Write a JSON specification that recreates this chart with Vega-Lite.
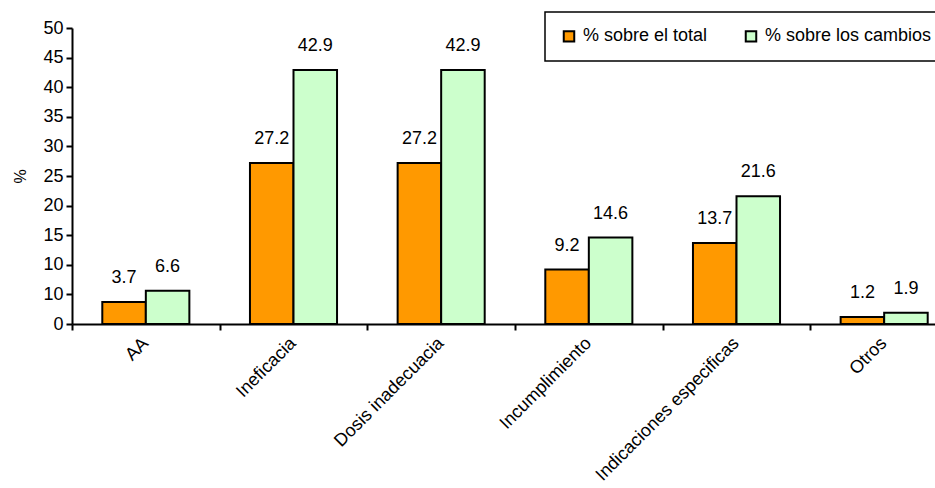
{
  "$schema": "https://vega.github.io/schema/vega-lite/v6.json",
  "autosize": "none",
  "width": 886,
  "height": 296,
  "padding": {"left": 72, "top": 28, "right": 10, "bottom": 164},
  "background": "white",
  "config": {
    "view": {"stroke": null},
    "font": "Liberation Sans",
    "axis": {"labelFont": "Liberation Sans", "titleFont": "Liberation Sans", "labelColor": "black", "titleColor": "black", "domainColor": "black", "tickColor": "black", "domainWidth": 2, "tickWidth": 2, "tickSize": 6, "grid": false},
    "legend": {"labelFont": "Liberation Sans"}
  },
  "data": {
    "values": [
      {"category": "AA", "series": "% sobre el total", "value": 3.7, "label": "3.7"},
      {"category": "AA", "series": "% sobre los cambios", "value": 5.6, "label": "6.6"},
      {"category": "Ineficacia", "series": "% sobre el total", "value": 27.2, "label": "27.2"},
      {"category": "Ineficacia", "series": "% sobre los cambios", "value": 42.9, "label": "42.9"},
      {"category": "Dosis inadecuacia", "series": "% sobre el total", "value": 27.2, "label": "27.2"},
      {"category": "Dosis inadecuacia", "series": "% sobre los cambios", "value": 42.9, "label": "42.9"},
      {"category": "Incumplimiento", "series": "% sobre el total", "value": 9.2, "label": "9.2"},
      {"category": "Incumplimiento", "series": "% sobre los cambios", "value": 14.6, "label": "14.6"},
      {"category": "Indicaciones especificas", "series": "% sobre el total", "value": 13.7, "label": "13.7"},
      {"category": "Indicaciones especificas", "series": "% sobre los cambios", "value": 21.6, "label": "21.6"},
      {"category": "Otros", "series": "% sobre el total", "value": 1.2, "label": "1.2"},
      {"category": "Otros", "series": "% sobre los cambios", "value": 1.9, "label": "1.9"}
    ]
  },
  "encoding": {
    "x": {
      "field": "category", "type": "nominal", "sort": null,
      "scale": {"paddingInner": 0, "paddingOuter": 0},
      "axis": {"title": null, "labelAngle": -45, "labelFontSize": 18, "labelLimit": 400, "tickBand": "extent", "labelPadding": 4, "labelOffset": -7}
    },
    "xOffset": {"field": "series", "type": "nominal", "scale": {"paddingInner": 0, "paddingOuter": 0.696, "domain": ["% sobre el total", "% sobre los cambios"]}},
    "y": {
      "field": "value", "type": "quantitative",
      "scale": {"domain": [0, 50], "nice": false},
      "axis": {"title": "%", "titleFontSize": 16, "titleFontWeight": "normal", "titlePadding": 14, "labelFontSize": 18, "values": [0, 5, 10, 15, 20, 25, 30, 35, 40, 45, 50], "labelExpr": "datum.value == 5 ? '10' : datum.label", "labelPadding": 3}
    }
  },
  "layer": [
    {
      "mark": {"type": "bar", "stroke": "black", "strokeWidth": 2},
      "encoding": {
        "color": {
          "field": "series", "type": "nominal",
          "scale": {"domain": ["% sobre el total", "% sobre los cambios"], "range": ["#FF9900", "#CCFFCC"]},
          "legend": {
            "title": null, "orient": "none", "legendX": 473, "legendY": -16, "direction": "horizontal", "columns": 2,
            "strokeColor": "black", "padding": 15, "columnPadding": 33,
            "symbolType": "square", "symbolSize": 110, "symbolStrokeColor": "black", "symbolStrokeWidth": 2,
            "labelFontSize": 18, "labelColor": "black", "labelOffset": 5, "labelLimit": 400, "fillColor": "white",
            "encode": {"legend": {"update": {"strokeWidth": {"value": 1.5}}}}
          }
        }
      }
    },
    {
      "mark": {"type": "text", "baseline": "middle", "dy": -24, "fontSize": 18, "color": "black"},
      "encoding": {"text": {"field": "label"}}
    }
  ]
}
